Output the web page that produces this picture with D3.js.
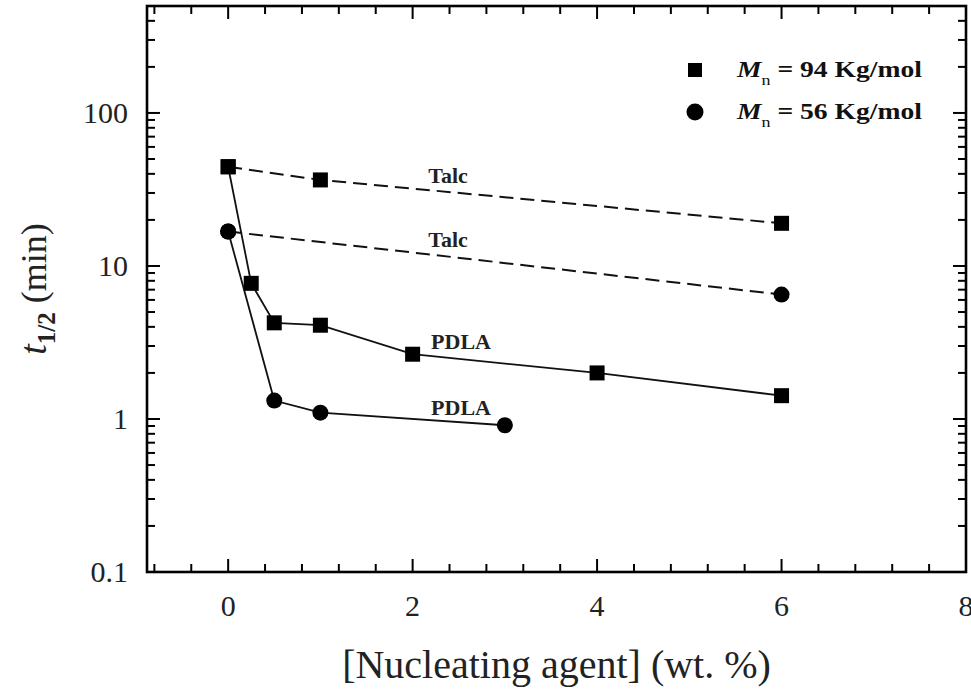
<!DOCTYPE html>
<html>
<head>
<meta charset="utf-8">
<script src="https://cdn.jsdelivr.net/npm/d3@7"></script>
<style>
  body { margin: 0; background: #fff; }
  svg { display: block; font-family: "Liberation Serif", "Times New Roman", serif; }
</style>
</head>
<body>
<div id="chart"></div>
<script>
// data
var pdla94X = [0, 0.25, 0.5, 1, 2, 4, 6];
var pdla94Y = [44.5, 7.7, 4.25, 4.1, 2.65, 2.0, 1.42];
var pdla56X = [0, 0.5, 1, 3];
var pdla56Y = [16.8, 1.32, 1.1, 0.91];
var talc94X = [0, 1, 6];
var talc94Y = [44.5, 36.5, 19];
var talc56X = [0, 6];
var talc56Y = [16.8, 6.5];
var xTickValues = [0, 2, 4, 6, 8];
var yTickValues = [0.1, 1, 10, 100];
var legendLabels = ["94 Kg/mol", "56 Kg/mol"];
var notes = [
  {text: "Talc", x: 2.17, y: 34.6},
  {text: "Talc", x: 2.17, y: 13.4},
  {text: "PDLA", x: 2.2, y: 2.86},
  {text: "PDLA", x: 2.2, y: 1.06}
];

var width = 971, height = 691;
var margin = {top: 6, right: 5, bottom: 119, left: 147};

var svg = d3.select("#chart").append("svg")
  .attr("width", width).attr("height", height);

var x = d3.scaleLinear().domain([-0.88, 8]).range([margin.left, width - margin.right]);
var y = d3.scaleLog().domain([0.1, 500]).range([height - margin.bottom, margin.top]);

var x0 = x.range()[0], x1 = x.range()[1], y0 = y.range()[0], y1 = y.range()[1];

// minor ticks
var xMinor = d3.range(-0.8, 8.001, 0.4).filter(function(v) { return Math.abs(v / 2 - Math.round(v / 2)) > 1e-6; });
var yMinor = [];
[0.1, 1, 10, 100].forEach(function(d) {
  for (var k = 2; k <= 9; k++) if (d * k < 500) yMinor.push(d * k);
});

var ticks = svg.append("g").attr("stroke", "#000").attr("stroke-width", 2);
function xTick(v, len) {
  ticks.append("line").attr("x1", x(v)).attr("x2", x(v)).attr("y1", y0).attr("y2", y0 - len);
  ticks.append("line").attr("x1", x(v)).attr("x2", x(v)).attr("y1", y1).attr("y2", y1 + len);
}
function yTick(v, len) {
  ticks.append("line").attr("x1", x0).attr("x2", x0 + len).attr("y1", y(v)).attr("y2", y(v));
  ticks.append("line").attr("x1", x1).attr("x2", x1 - len).attr("y1", y(v)).attr("y2", y(v));
}
xMinor.forEach(function(v) { xTick(v, 8); });
xTickValues.forEach(function(v) { xTick(v, 13); });
yMinor.forEach(function(v) { yTick(v, 8); });
yTickValues.forEach(function(v) { yTick(v, 13); });

// frame
svg.append("rect")
  .attr("x", x0).attr("y", y1).attr("width", x1 - x0).attr("height", y0 - y1)
  .attr("fill", "none").attr("stroke", "#000").attr("stroke-width", 2.6);

// tick labels
svg.append("g").selectAll("text").data(xTickValues).enter().append("text")
  .attr("x", function(d) { return x(d); }).attr("y", 616)
  .attr("text-anchor", "middle").attr("font-size", 30).attr("fill", "#222")
  .text(function(d) { return d; });

svg.append("g").selectAll("text").data(yTickValues).enter().append("text")
  .attr("x", 128).attr("y", function(d) { return y(d); }).attr("dy", "0.34em")
  .attr("text-anchor", "end").attr("font-size", 30).attr("fill", "#222")
  .text(function(d) { return d3.format("~g")(d); });

// axis titles
svg.append("text")
  .attr("x", (x0 + x1) / 2).attr("y", 678)
  .attr("text-anchor", "middle").attr("font-size", 40).attr("fill", "#222")
  .text("[Nucleating agent] (wt. %)");

var yt = svg.append("text")
  .attr("transform", "translate(46," + ((y0 + y1) / 2) + ") rotate(-90)")
  .attr("text-anchor", "middle").attr("fill", "#222");
yt.append("tspan").attr("font-size", 38).attr("font-style", "italic").text("t");
yt.append("tspan").attr("font-size", 25).attr("font-weight", "bold").attr("dy", 9).text("1/2");
yt.append("tspan").attr("font-size", 36).attr("dy", -9).text(" (min)");

// lines
var line = d3.line().x(function(d) { return x(d[0]); }).y(function(d) { return y(d[1]); });
function pairs(xs, ys) { return xs.map(function(v, i) { return [v, ys[i]]; }); }

var series = [
  {pts: pairs(talc94X, talc94Y), dash: "14,7", shape: "square"},
  {pts: pairs(talc56X, talc56Y), dash: "14,7", shape: "circle"},
  {pts: pairs(pdla94X, pdla94Y), dash: null, shape: "square"},
  {pts: pairs(pdla56X, pdla56Y), dash: null, shape: "circle"}
];

series.forEach(function(s) {
  svg.append("path").datum(s.pts)
    .attr("d", line).attr("fill", "none").attr("stroke", "#111")
    .attr("stroke-width", s.dash ? 2 : 1.8)
    .attr("stroke-dasharray", s.dash);
});

function marker(g, shape, cx, cy, size) {
  if (shape === "square") {
    g.append("rect").attr("x", cx - size / 2).attr("y", cy - size / 2)
      .attr("width", size).attr("height", size).attr("fill", "#000");
  } else {
    g.append("circle").attr("cx", cx).attr("cy", cy).attr("r", size / 2 + 0.5).attr("fill", "#000");
  }
}

var marks = svg.append("g");
series.forEach(function(s) {
  s.pts.forEach(function(p) { marker(marks, s.shape, x(p[0]), y(p[1]), 15); });
});

// annotations
svg.append("g").selectAll("text").data(notes).enter().append("text")
  .attr("x", function(d) { return x(d.x); }).attr("y", function(d) { return y(d.y); })
  .attr("font-size", 22).attr("font-weight", "bold").attr("fill", "#222")
  .text(function(d) { return d.text; });

// legend
var legend = svg.append("g");
legendLabels.forEach(function(lbl, i) {
  var ly = 70 + i * 42;
  marker(legend, i === 0 ? "square" : "circle", 695, ly, i === 0 ? 14 : 16);
  var t = legend.append("text")
    .attr("transform", "translate(737," + (ly + 7) + ") scale(1.2,1)")
    .attr("fill", "#111").attr("font-size", 23);
  t.append("tspan").attr("font-style", "italic").attr("font-weight", "bold").text("M");
  t.append("tspan").attr("font-size", 15).attr("dy", 8).text("n");
  t.append("tspan").attr("font-weight", "bold").attr("dy", -8).text(" = " + lbl);
});
</script>
</body>
</html>
